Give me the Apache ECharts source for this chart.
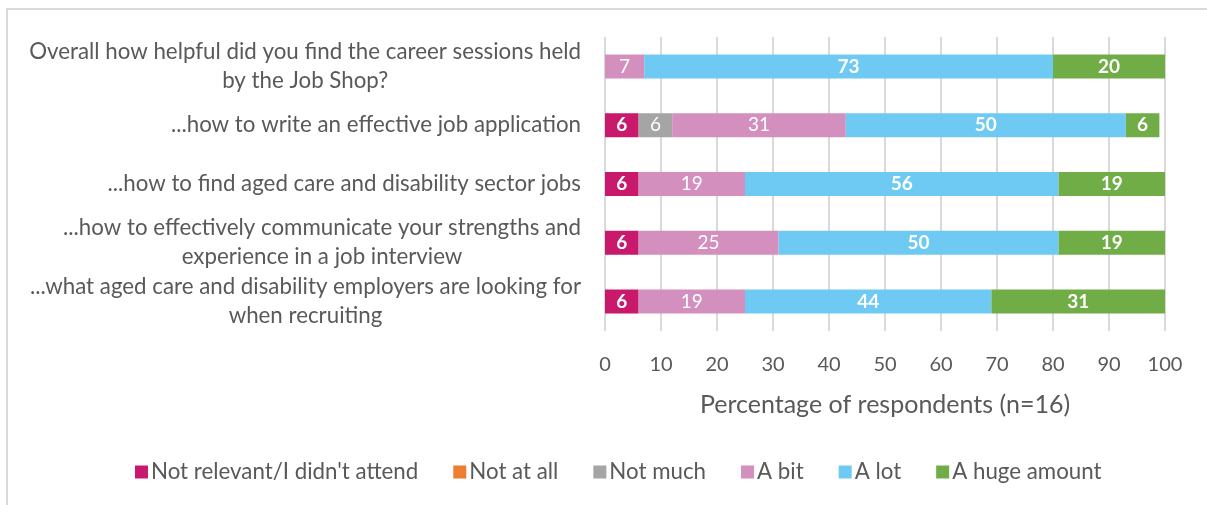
<!DOCTYPE html>
<html>
<head>
<meta charset="utf-8">
<script src="https://cdn.jsdelivr.net/npm/echarts@6/dist/echarts.min.js"></script>
<style>
  html, body { margin: 0; padding: 0; background: #fff; }
  #frame { position: absolute; left: 6px; top: 8px; width: 1220px; height: 520px;
           border-left: 2px solid #d9d9d9; border-top: 2px solid #d9d9d9; box-sizing: border-box; }
  #chart { position: absolute; left: 0; top: 0; width: 1207px; height: 505px; }
</style>
</head>
<body>
<div id="frame"></div>
<div id="chart"></div>
<script>
// Survey questions (top to bottom)
const categories = [
  'Overall how helpful did you find the career sessions held\nby the Job Shop?',
  '...how to write an effective job application',
  '...how to find aged care and disability sector jobs',
  '...how to effectively communicate your strengths and\nexperience in a job interview',
  '...what aged care and disability employers are looking for\nwhen recruiting'
];

// Response shares (% of respondents), null where nobody answered
const notRelevant = [null, 6, 6, 6, 6];
const notAtAll    = [null, null, null, null, null];
const notMuch     = [null, 6, null, null, null];
const aBit        = [7, 31, 19, 25, 19];
const aLot        = [73, 50, 56, 50, 44];
const aHugeAmount = [20, 6, 19, 19, 31];

const xTicks = [0, 10, 20, 30, 40, 50, 60, 70, 80, 90, 100];

const FONT = 'Lato, "Open Sans", sans-serif';
const TEXT = '#595959';

function seriesOf(name, data, color, bold) {
  return {
    name: name,
    type: 'bar',
    stack: 'total',
    data: data,
    barWidth: 24,
    itemStyle: { color: color },
    label: {
      show: true,
      position: 'inside',
      color: '#ffffff',
      fontFamily: FONT,
      fontSize: 19,
      fontWeight: bold ? 'bold' : 'normal'
    },
    emphasis: { disabled: true }
  };
}

const chart = echarts.init(document.getElementById('chart'), null, { renderer: 'canvas' });
chart.setOption({
  animation: false,
  backgroundColor: 'transparent',
  textStyle: { fontFamily: FONT },
  grid: { left: 605, right: 42, top: 37, bottom: 174, containLabel: false },
  xAxis: {
    type: 'value',
    min: xTicks[0],
    max: xTicks[xTicks.length - 1],
    interval: 10,
    name: 'Percentage of respondents (n=16)',
    nameLocation: 'middle',
    nameGap: 61,
    nameTextStyle: { color: TEXT, fontSize: 25, fontFamily: FONT },
    axisLine: { show: false },
    axisTick: { show: false },
    axisLabel: { color: TEXT, fontSize: 20, fontFamily: FONT, margin: 24 },
    splitLine: { show: true, lineStyle: { color: '#d9d9d9', width: 2 } }
  },
  yAxis: {
    type: 'category',
    inverse: true,
    data: categories,
    axisLine: { show: false },
    axisTick: { show: false },
    axisLabel: {
      margin: 24,
      align: 'right',
      formatter: function (v) {
        return v.split('\n').map(function (s) { return '{c|' + s + '}'; }).join('\n');
      },
      rich: {
        c: { align: 'center', color: TEXT, fontSize: 22.3, fontFamily: FONT, lineHeight: 29 }
      }
    }
  },
  legend: {
    top: 456,
    left: 130,
    itemWidth: 13,
    itemHeight: 13,
    itemGap: 35,
    icon: 'rect',
    textStyle: { color: TEXT, fontSize: 22.3, fontFamily: FONT, padding: [0, 0, 0, -2] },
    data: ['Not relevant/I didn\'t attend', 'Not at all', 'Not much', 'A bit', 'A lot', 'A huge amount']
  },
  series: [
    seriesOf('Not relevant/I didn\'t attend', notRelevant, '#c8196c', true),
    seriesOf('Not at all', notAtAll, '#ed7d31', true),
    seriesOf('Not much', notMuch, '#a5a5a5', false),
    seriesOf('A bit', aBit, '#d38fbe', false),
    seriesOf('A lot', aLot, '#6fcaf3', true),
    seriesOf('A huge amount', aHugeAmount, '#70ad47', true)
  ]
});
</script>
</body>
</html>
